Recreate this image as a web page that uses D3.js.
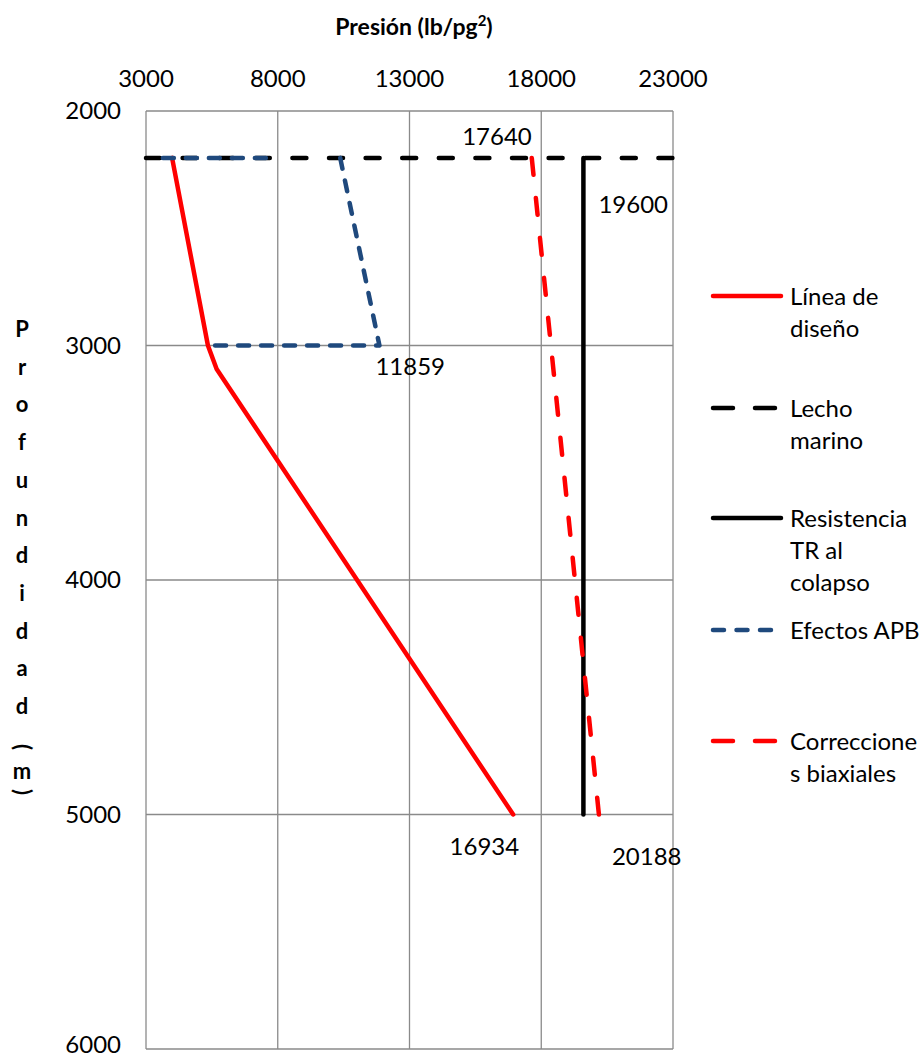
<!DOCTYPE html>
<html>
<head>
<meta charset="utf-8">
<style>
html, body { margin: 0; background: #fff; }
text { font-family: Lato, "Open Sans", sans-serif; fill: #000; }
.grid line { stroke: #8a8a8a; stroke-width: 1.3px; }
.tick { font-size: 24px; }
.lbl { font-size: 24px; }
.legend text { font-size: 24px; }
</style>
<script src="https://d3js.org/d3.v7.min.js"></script>
</head>
<body>
<svg id="chart" width="922" height="1059"></svg>
<script>
// data
var xTicks = [3000, 8000, 13000, 18000, 23000];
var yTicks = [2000, 3000, 4000, 5000, 6000];

var lineaDiseno = [[3990, 2200], [5350, 3000], [5680, 3100], [16934, 5000]];
var lechoMarino = [[3000, 2200], [23000, 2200]];
var resistencia = [[19600, 2200], [19600, 5000]];
var efectosAPB = [[3640, 2200], [8000, 2200], null, [10370, 2200], [11859, 3000], [5350, 3000]];
var correcciones = [[17640, 2200], [20188, 5000]];

var labels = [
  {p: 17640, d: 2200, t: "17640"},
  {p: 19600, d: 2200, t: "19600"},
  {p: 11859, d: 3000, t: "11859"},
  {p: 16934, d: 5000, t: "16934"},
  {p: 20188, d: 5000, t: "20188"}
];
var yTitle = "Profundidad";

var svg = d3.select("#chart");
var x = d3.scaleLinear().domain([3000, 23000]).range([146, 673]);
var y = d3.scaleLinear().domain([2000, 6000]).range([111, 1049]);

// grid
var grid = svg.append("g").attr("class", "grid");
grid.selectAll("line.v").data(xTicks).enter().append("line")
    .attr("x1", d => x(d)).attr("x2", d => x(d))
    .attr("y1", y(2000)).attr("y2", y(6000));
grid.selectAll("line.h").data(yTicks).enter().append("line")
    .attr("class", "h")
    .attr("x1", x(3000)).attr("x2", x(23000))
    .attr("y1", d => y(d)).attr("y2", d => y(d));

// tick labels
svg.selectAll("text.xt").data(xTicks).enter().append("text")
    .attr("class", "tick")
    .attr("x", d => x(d)).attr("y", 87)
    .attr("text-anchor", "middle")
    .text(d => d);
svg.selectAll("text.yt").data(yTicks).enter().append("text")
    .attr("class", "tick")
    .attr("x", 121).attr("y", d => Math.min(y(d) + 8, 1053))
    .attr("text-anchor", "end")
    .text(d => d);

// title
var title = svg.append("text")
    .attr("x", 414).attr("y", 35)
    .attr("text-anchor", "middle")
    .style("font-weight", "bold").style("font-size", "23px");
title.append("tspan").text("Presión (lb/pg");
title.append("tspan").text("2").attr("dy", -9).style("font-size", "15px");
title.append("tspan").text(")").attr("dy", 9);

// y title, stacked letters
var yt = svg.append("g").style("font-weight", "bold").style("font-size", "22px");
yTitle.split("").forEach(function(c, i) {
  yt.append("text").attr("x", 22).attr("y", 337 + i * 37.7)
    .attr("text-anchor", "middle").text(c);
});
yt.append("text").attr("transform", "translate(22,747) rotate(90)")
  .attr("text-anchor", "middle").attr("dy", 7).text("(");
yt.append("text").attr("x", 22).attr("y", 779).attr("text-anchor", "middle").text("m");
yt.append("text").attr("transform", "translate(22,792) rotate(90)")
  .attr("text-anchor", "middle").attr("dy", 7).text(")");

var line = d3.line()
    .defined(d => d !== null)
    .x(d => x(d[0])).y(d => y(d[1]));

var series = [
  {name: ["Línea de", "diseño"], data: lineaDiseno, color: "#ff0000", dash: null, ldash: null, ly: 296},
  {name: ["Lecho", "marino"], data: lechoMarino, color: "#000000", dash: "14 22.6", ldash: "20 22", ly: 408},
  {name: ["Resistencia", "TR al", "colapso"], data: resistencia, color: "#000000", dash: null, ldash: null, ly: 518},
  {name: ["Efectos APB"], data: efectosAPB, color: "#1f497d", dash: "11 12", ldash: "11 12.5", ly: 630},
  {name: ["Correccione", "s biaxiales"], data: correcciones, color: "#ff0000", dash: "17 23.2", ldash: "20 22", ly: 741}
];

svg.append("g").selectAll("path").data(series).enter().append("path")
    .attr("d", d => line(d.data))
    .attr("fill", "none")
    .attr("stroke", d => d.color)
    .attr("stroke-width", 4.5)
    .attr("stroke-linecap", "round")
    .attr("stroke-linejoin", "round")
    .attr("stroke-dasharray", d => d.dash);

// data labels
var lblPos = {
  "17640": {dx: 0, dy: -13, a: "end"},
  "19600": {dx: 15, dy: 55, a: "start"},
  "11859": {dx: -4, dy: 29, a: "start"},
  "16934": {dx: 6, dy: 40, a: "end"},
  "20188": {dx: 13, dy: 50, a: "start"}
};
svg.selectAll("text.lbl").data(labels).enter().append("text")
    .attr("class", "lbl")
    .attr("x", d => x(d.p) + lblPos[d.t].dx)
    .attr("y", d => y(d.d) + lblPos[d.t].dy)
    .attr("text-anchor", d => lblPos[d.t].a)
    .text(d => d.t);

// legend
var lg = svg.append("g").attr("class", "legend");
series.forEach(function(s) {
  lg.append("line")
    .attr("x1", 713).attr("x2", 781)
    .attr("y1", s.ly).attr("y2", s.ly)
    .attr("stroke", s.color).attr("stroke-width", 4.5)
    .attr("stroke-linecap", "round")
    .attr("stroke-dasharray", s.ldash);
  s.name.forEach(function(n, i) {
    lg.append("text").attr("x", 790).attr("y", s.ly + 8.5 + i * 32).text(n);
  });
});
</script>
</body>
</html>
